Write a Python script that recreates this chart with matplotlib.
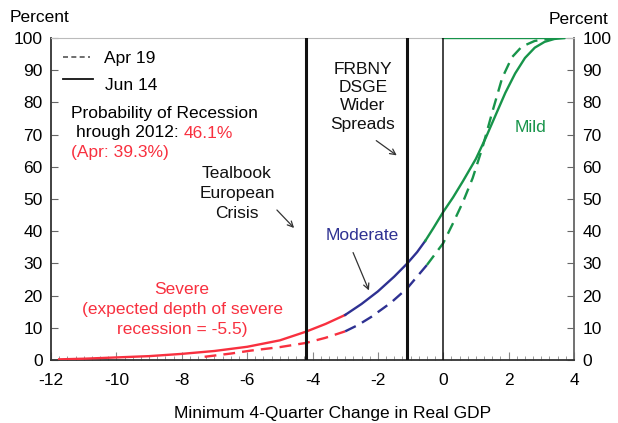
import numpy as np
import matplotlib
matplotlib.use("Agg")
from matplotlib import pyplot as plt

plt.rcParams['font.family'] = ['Liberation Sans', 'DejaVu Sans']

RED = '#f8303f'
NAVY = '#2e3192'
GREEN = '#17944a'

# Jun 14 (solid) distribution
x_jun = [-11.75, -11, -10, -9, -8, -7, -6, -5, -4.2, -3.6, -3.0, -2.5, -2.0, -1.5, -1.1,
         -0.8, -0.55, -0.3, 0, 0.3, 0.6, 1.0, 1.3, 1.6, 1.9, 2.2, 2.5, 2.8, 3.1, 3.4, 3.7]
y_jun = [0.2, 0.4, 0.8, 1.2, 1.9, 2.8, 4.1, 6.1, 8.8, 11.2, 14, 17.4, 21.3, 25.9, 30,
         33.5, 37, 41, 46, 50.5, 55.5, 62.5, 69, 76, 83, 89, 93.8, 97, 98.8, 99.7, 100]
# Apr 19 (dashed) distribution
x_apr = [-7.3, -6.5, -5.9, -5, -4.2, -3.6, -3.0, -2.6, -2.2, -1.6, -1.1, -0.5, 0, 0.3,
         0.6, 0.9, 1.2, 1.5, 1.8, 2.1, 2.4, 2.8, 3.2, 3.6]
y_apr = [1.0, 2.0, 2.9, 4.0, 5.3, 6.9, 8.9, 10.9, 13.4, 17.8, 22.3, 29.5, 36.3, 42.5,
         49, 56.5, 66, 77, 87.5, 94, 97.3, 99.1, 99.7, 100]

# regime boundaries (severe / moderate / mild)
cut_jun = [-3.0, -0.55]
cut_apr = [-3.0, -0.5]

vlines = [-4.2, -1.1]

W, H = 618, 423
fig = plt.figure(figsize=(W / 100, H / 100), dpi=100)
ax = fig.add_axes([51 / W, 63 / H, 523 / W, 322 / H])


def P(px, py):
    # pixel position -> figure fraction
    return (px / W, 1 - py / H)


def segments(xs, ys, cuts):
    xs = np.array(xs)
    ys = np.array(ys)
    lo, hi = cuts
    return [(xs[xs <= lo], ys[xs <= lo], RED),
            (xs[(xs >= lo) & (xs <= hi)], ys[(xs >= lo) & (xs <= hi)], NAVY),
            (xs[xs >= hi], ys[xs >= hi], GREEN)]


for sx, sy, c in segments(x_apr, y_apr, cut_apr):
    ax.plot(sx, sy, color=c, lw=1.7, ls=(0, (5, 3)), zorder=3)
for sx, sy, c in segments(x_jun, y_jun, cut_jun):
    ax.plot(sx, sy, color=c, lw=1.7, zorder=4)
ax.plot([0, 3.7], [100, 100], color=GREEN, lw=1.7, zorder=4)

for v in vlines:
    ax.axvline(v, color='#111111', lw=2.2, zorder=5)
ax.axvline(0, color='#111111', lw=1.1, zorder=5)

ax.set_xlim(-12, 4)
ax.set_ylim(0, 100)
ax.set_xticks(np.arange(-12, 5, 2))
ax.set_xticks(np.arange(-12, 4.01, 0.25), minor=True)
ax.set_xticklabels(['-12', '-10', '-8', '-6', '-4', '-2', '0', '2', '4'])
ax.set_yticks(np.arange(0, 101, 10))
ax.tick_params(axis='x', which='major', direction='in', length=6, color='#888888',
               labelsize=12.5, pad=9)
ax.tick_params(axis='x', which='minor', direction='in', length=3, color='#888888')
ax.tick_params(axis='y', direction='in', length=5, color='#666666', labelsize=12.5,
               right=True, labelright=True, pad=6)
for s in ['left', 'bottom']:
    ax.spines[s].set_color('#333333')
    ax.spines[s].set_linewidth(1.3)
ax.spines['right'].set_color('#666666')
ax.spines['right'].set_linewidth(1.3)
ax.spines['top'].set_color('#bbbbbb')
ax.spines['top'].set_linewidth(0.8)

FS = 12.5
fig.text(*P(333, 413), 'Minimum 4-Quarter Change in Real GDP', fontsize=12.5,
         ha='center', va='center')
fig.text(*P(10, 18), 'Percent', fontsize=FS, va='center', ha='left')
fig.text(*P(608, 20), 'Percent', fontsize=FS, va='center', ha='right')

# legend drawn by hand
fig.add_artist(plt.Line2D([63 / W, 90 / W], [1 - 57 / H] * 2, color='#555555', lw=1.2,
                          ls=(0, (3, 2))))
fig.add_artist(plt.Line2D([63 / W, 93 / W], [1 - 79 / H] * 2, color='#111111', lw=1.3))
fig.text(*P(104, 59), 'Apr 19', fontsize=FS, va='center')
fig.text(*P(105, 86), 'Jun 14', fontsize=FS, va='center')

fig.text(*P(71, 113), 'Probability of Recession', fontsize=FS, va='center')
t = fig.text(*P(76, 133), 'hrough 2012: ', fontsize=FS, va='center')
ax.annotate('46.1%', xycoords=t, xy=(1, 0.5), va='center', fontsize=FS, color=RED)
fig.text(*P(71, 153), '(Apr: 39.3%)', fontsize=FS, va='center', color=RED)


def block(cx, ys, lines, color='#111111'):
    for y, s in zip(ys, lines):
        fig.text(*P(cx, y), s, fontsize=FS, ha='center', va='center', color=color)


def arrow(x0, y0, x1, y1):
    ax.annotate('', xy=P(x1, y1), xytext=P(x0, y0), xycoords='figure fraction',
                textcoords='figure fraction',
                arrowprops=dict(arrowstyle='->', color='#333333', lw=0.9))


block(237, [173, 193, 213], ['Tealbook', 'European', 'Crisis'])
arrow(275, 208, 296, 230)
block(363, [70, 88, 106, 124], ['FRBNY', 'DSGE', 'Wider', 'Spreads'])
arrow(374, 139, 399, 157)
block(530, [127], ['Mild'], GREEN)
block(362, [235], ['Moderate'], NAVY)
arrow(352, 250, 370, 293)
block(182, [289, 309, 329], ['Severe', '(expected depth of severe', 'recession = -5.5)'], RED)

fig.savefig('out.png', dpi=100)
